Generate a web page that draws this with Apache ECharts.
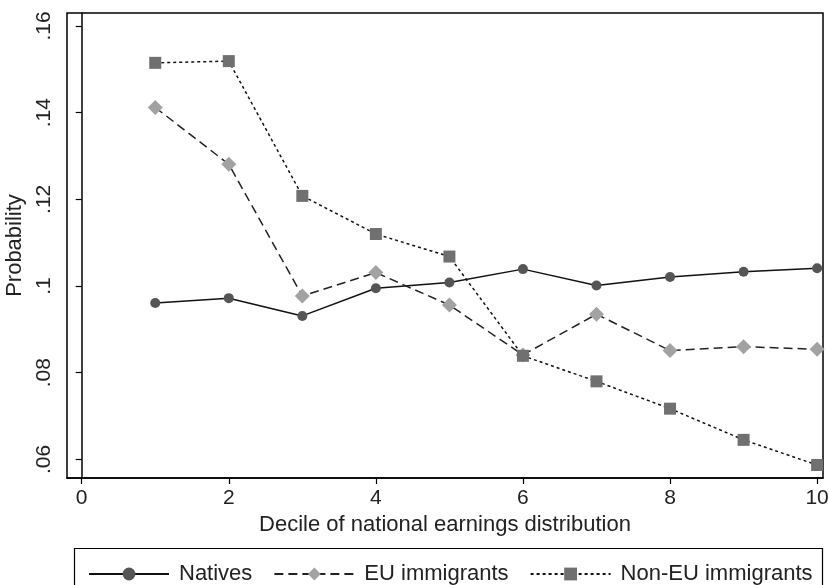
<!DOCTYPE html>
<html>
<head>
<meta charset="utf-8">
<script src="https://cdn.jsdelivr.net/npm/echarts@6/dist/echarts.min.js"></script>
<style>html,body{margin:0;padding:0;background:#fff}#c{width:829px;height:585px}</style>
</head>
<body>
<div id="c"></div>
<script>
const deciles = [1, 2, 3, 4, 5, 6, 7, 8, 9, 10];
const natives = [0.0961, 0.0972, 0.0931, 0.0995, 0.1008, 0.1039, 0.1001, 0.1021, 0.1033, 0.1041];
const euImmigrants = [0.1412, 0.1281, 0.0977, 0.1031, 0.0956, 0.0841, 0.0935, 0.0851, 0.0860, 0.0854];
const nonEuImmigrants = [0.1515, 0.1519, 0.1208, 0.1120, 0.1068, 0.0839, 0.0780, 0.0717, 0.0645, 0.0587];
const xTicks = [0, 2, 4, 6, 8, 10];
const yTicks = [0.06, 0.08, 0.1, 0.12, 0.14, 0.16];
const seriesNames = ['Natives', 'EU immigrants', 'Non-EU immigrants'];

const font = 'Liberation Sans, Arial, sans-serif';
const pair = arr => deciles.map((d, i) => [d, arr[i]]);
const chart = echarts.init(document.getElementById('c'), null, {renderer: 'canvas'});
chart.setOption({
  animation: false,
  backgroundColor: '#fff',
  textStyle: {fontFamily: font},
  grid: {left: 67, right: 6, top: 13, bottom: 107, show: true, borderColor: '#000', borderWidth: 1.5,
    containLabel: false, outerBoundsMode: 'none'},
  xAxis: {
    type: 'value', min: -0.2, max: 10.08,
    name: 'Decile of national earnings distribution', nameLocation: 'middle', nameGap: 33,
    nameTextStyle: {fontSize: 22, color: '#222', fontFamily: font},
    axisLine: {lineStyle: {color: '#000', width: 1.5}},
    axisTick: {show: true, length: 6, customValues: xTicks, lineStyle: {color: '#000', width: 1.2}},
    axisLabel: {customValues: xTicks, fontSize: 21, color: '#222', margin: 10, fontFamily: font},
    splitLine: {show: false}
  },
  yAxis: {
    type: 'value', min: 0.0557, max: 0.163,
    name: 'Probability', nameLocation: 'middle', nameGap: 36,
    nameTextStyle: {fontSize: 22, color: '#222', fontFamily: font},
    axisLine: {show: true, lineStyle: {color: '#000', width: 1.5}},
    axisTick: {show: true, length: 6, customValues: yTicks, lineStyle: {color: '#000', width: 1.2}},
    axisLabel: {customValues: yTicks, fontSize: 21, color: '#222', margin: 12, rotate: 90, fontFamily: font,
      formatter: v => String(+v.toFixed(2)).replace(/^0/, '')},
    splitLine: {show: false}
  },
  legend: {
    left: 83, top: 558, width: 760, itemWidth: 80, itemHeight: 16, itemGap: 21,
    textStyle: {fontSize: 22, color: '#222', fontFamily: font, padding: [0, 0, 0, 5]},
    data: seriesNames
  },
  graphic: [{type: 'rect', shape: {x: 74.5, y: 548.5, width: 748, height: 60}, style: {fill: 'none', stroke: '#000', lineWidth: 1.2}, silent: true}],
  series: [
    {name: seriesNames[0], type: 'line', data: pair(natives), symbol: 'circle', symbolSize: 10,
      lineStyle: {color: '#111', width: 1.5, type: 'solid'}, itemStyle: {color: '#555'}, z: 2},
    {name: seriesNames[1], type: 'line', data: pair(euImmigrants), symbol: 'diamond', symbolSize: 15,
      lineStyle: {color: '#222', width: 1.5, type: [9, 5]}, itemStyle: {color: '#a2a2a2'}, z: 3},
    {name: seriesNames[2], type: 'line', data: pair(nonEuImmigrants), symbol: 'rect', symbolSize: 12,
      lineStyle: {color: '#111', width: 1.5, type: [3, 3]}, itemStyle: {color: '#707070'}, z: 4}
  ]
});
</script>
</body>
</html>
